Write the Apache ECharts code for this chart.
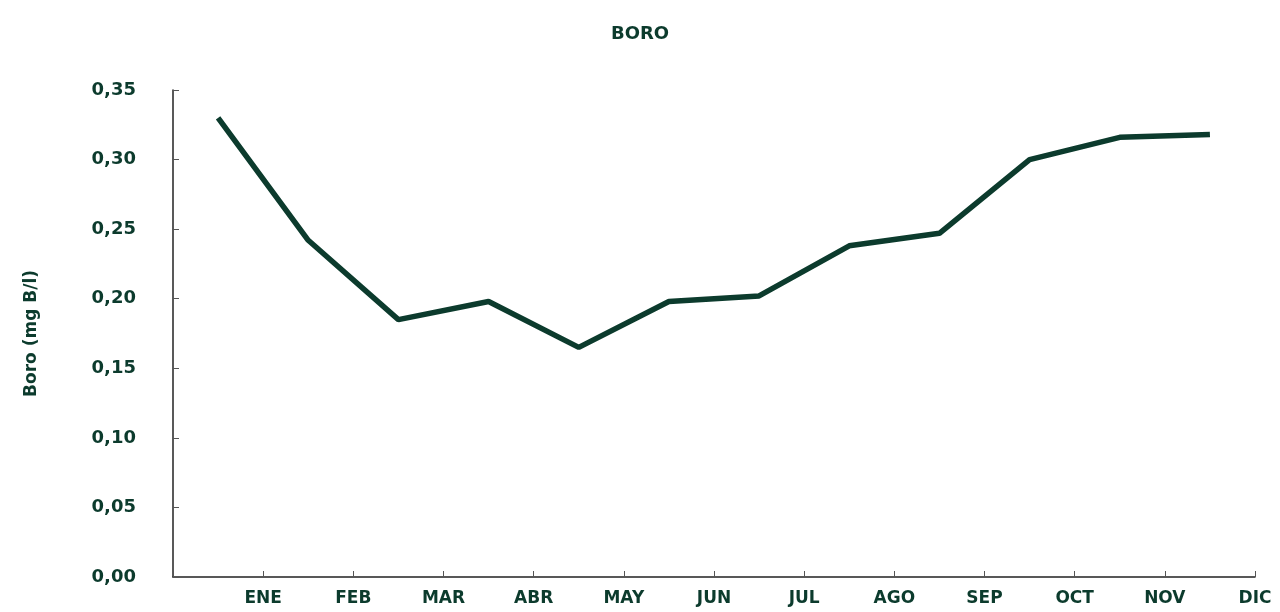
<!DOCTYPE html>
<html>
<head>
<meta charset="utf-8">
<script src="https://cdn.jsdelivr.net/npm/echarts@6/dist/echarts.min.js"></script>
<style>
  html, body { margin: 0; padding: 0; background: #fff; }
  #chart { width: 1280px; height: 612px; }
</style>
</head>
<body>
<div id="chart"></div>
<script>
// month labels sit on the tick marks, values sit mid-month
const months = ['ENE', 'FEB', 'MAR', 'ABR', 'MAY', 'JUN', 'JUL', 'AGO', 'SEP', 'OCT', 'NOV', 'DIC'];
const boro = [0.330, 0.242, 0.185, 0.198, 0.165, 0.198, 0.202, 0.238, 0.247, 0.300, 0.316, 0.318];
const yTicks = [0, 0.05, 0.10, 0.15, 0.20, 0.25, 0.30, 0.35];

const green = '#0c3b2d';
const font = 'DejaVu Sans';

const chart = echarts.init(document.getElementById('chart'));
chart.setOption({
  animation: false,
  backgroundColor: '#fff',
  title: {
    text: 'BORO',
    left: 'center',
    top: 20,
    textStyle: { color: green, fontFamily: font, fontWeight: 'bold', fontSize: 18 }
  },
  grid: { left: 173, right: 25, top: 90, bottom: 35 },
  xAxis: {
    type: 'value',
    min: 0,
    max: months.length,
    interval: 1,
    axisLine: { lineStyle: { color: '#222', width: 1.5 } },
    axisTick: { inside: true, length: 6, lineStyle: { color: '#555' } },
    splitLine: { show: false },
    axisLabel: {
      margin: 13,
      color: green,
      fontFamily: font,
      fontWeight: 'bold',
      fontSize: 17,
      formatter: v => (v >= 1 ? months[v - 1] : '')
    }
  },
  yAxis: {
    type: 'value',
    min: yTicks[0],
    max: yTicks[yTicks.length - 1],
    interval: 0.05,
    name: 'Boro (mg B/l)',
    nameLocation: 'middle',
    nameGap: 133,
    nameTextStyle: { color: green, fontFamily: font, fontWeight: 'bold', fontSize: 17 },
    axisLine: { show: true, lineStyle: { color: '#222', width: 1.5 } },
    axisTick: { show: true, inside: true, length: 6, lineStyle: { color: '#555' } },
    splitLine: { show: false },
    axisLabel: {
      margin: 37,
      color: green,
      fontFamily: font,
      fontWeight: 'bold',
      fontSize: 18,
      formatter: v => v.toFixed(2).replace('.', ',')
    }
  },
  series: [{
    type: 'line',
    data: boro.map((v, i) => [i + 0.5, v]),
    showSymbol: false,
    lineStyle: { color: green, width: 5.5 }
  }]
});
</script>
</body>
</html>
